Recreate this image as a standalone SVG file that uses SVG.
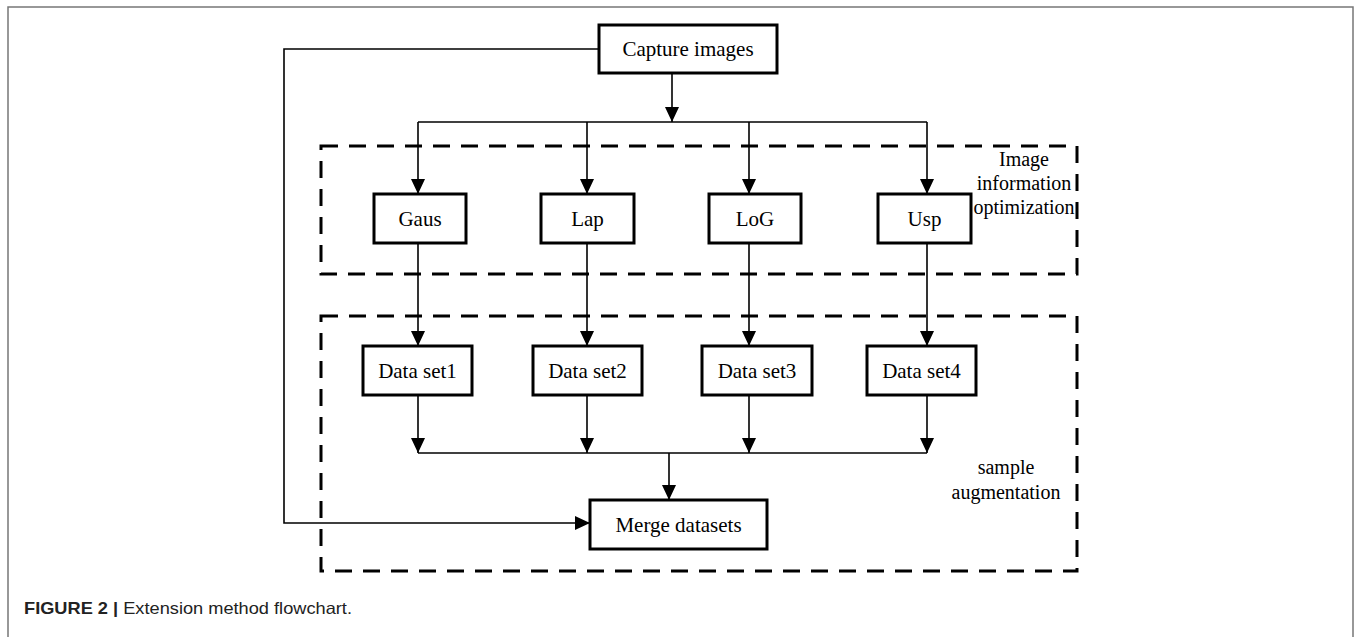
<svg xmlns="http://www.w3.org/2000/svg" width="1356" height="637" viewBox="0 0 1356 637">
  <style>
    .box { fill: #fff; stroke: #000; stroke-width: 3; }
    .lbl { font-family: "Liberation Serif", "Times New Roman", serif; font-size: 21px; fill: #000; text-anchor: middle; }
    .glbl { font-family: "Liberation Serif", "Times New Roman", serif; font-size: 20px; fill: #000; text-anchor: middle; }
    .conn { fill: none; stroke: #000; stroke-width: 1.6; }
    .dash { fill: none; stroke: #000; stroke-width: 3; stroke-dasharray: 17 11; }
    .cap { font-family: "Liberation Sans", Arial, sans-serif; font-size: 16.5px; fill: #222; }
  </style>
  <defs>
    <marker id="arr" markerUnits="userSpaceOnUse" markerWidth="15" markerHeight="14" refX="15" refY="7" orient="auto">
      <path d="M0,0 L15,7 L0,14 z" fill="#000"/>
    </marker>
  </defs>
  <rect width="1356" height="637" fill="#fff"/>
  <path d="M8,637 V7 H1353 V637" fill="none" stroke="#777" stroke-width="1.5"/>

  <g id="groups">
    <rect id="grp-optim" class="dash" x="321" y="146" width="756" height="128"/>
    <rect id="grp-aug" class="dash" x="321" y="316" width="756" height="255"/>
  </g>

  <g id="connectors">
    <path class="conn" d="M672,73 V122" marker-end="url(#arr)"/>
    <path class="conn" d="M418,122 H927"/>
    <path class="conn" d="M418,122 V194" marker-end="url(#arr)"/>
    <path class="conn" d="M587,122 V194" marker-end="url(#arr)"/>
    <path class="conn" d="M749,122 V194" marker-end="url(#arr)"/>
    <path class="conn" d="M927,122 V194" marker-end="url(#arr)"/>
    <path class="conn" d="M418,243 V346" marker-end="url(#arr)"/>
    <path class="conn" d="M587,243 V346" marker-end="url(#arr)"/>
    <path class="conn" d="M749,243 V346" marker-end="url(#arr)"/>
    <path class="conn" d="M927,243 V346" marker-end="url(#arr)"/>
    <path class="conn" d="M418,395 V453" marker-end="url(#arr)"/>
    <path class="conn" d="M587,395 V453" marker-end="url(#arr)"/>
    <path class="conn" d="M749,395 V453" marker-end="url(#arr)"/>
    <path class="conn" d="M927,395 V453" marker-end="url(#arr)"/>
    <path class="conn" d="M418,453 H927"/>
    <path class="conn" d="M669,453 V500" marker-end="url(#arr)"/>
    <path class="conn" d="M599,49 H284 V523 H590" stroke-width="2" marker-end="url(#arr)"/>
  </g>

  <g id="capture">
    <rect class="box" x="599" y="25" width="178" height="48"/>
    <text class="lbl" x="688" y="56">Capture images</text>
  </g>
  <g id="gaus">
    <rect class="box" x="374" y="194" width="92" height="49"/>
    <text class="lbl" x="420" y="225.5">Gaus</text>
  </g>
  <g id="lap">
    <rect class="box" x="541" y="194" width="93" height="49"/>
    <text class="lbl" x="587.5" y="225.5">Lap</text>
  </g>
  <g id="log">
    <rect class="box" x="709" y="194" width="92" height="49"/>
    <text class="lbl" x="755" y="225.5">LoG</text>
  </g>
  <g id="usp">
    <rect class="box" x="878" y="194" width="93" height="49"/>
    <text class="lbl" x="924.5" y="225.5">Usp</text>
  </g>
  <g id="ds1">
    <rect class="box" x="363" y="346" width="109" height="49"/>
    <text class="lbl" x="417.5" y="377.5">Data set1</text>
  </g>
  <g id="ds2">
    <rect class="box" x="533" y="346" width="109" height="49"/>
    <text class="lbl" x="587.5" y="377.5">Data set2</text>
  </g>
  <g id="ds3">
    <rect class="box" x="702" y="346" width="110" height="49"/>
    <text class="lbl" x="757" y="377.5">Data set3</text>
  </g>
  <g id="ds4">
    <rect class="box" x="867" y="346" width="109" height="49"/>
    <text class="lbl" x="921.5" y="377.5">Data set4</text>
  </g>
  <g id="merge">
    <rect class="box" x="590" y="500" width="177" height="49"/>
    <text class="lbl" x="678.5" y="531.5">Merge datasets</text>
  </g>

  <g id="group-labels">
    <text class="glbl" x="1024" y="166">Image</text>
    <text class="glbl" x="1024" y="190">information</text>
    <text class="glbl" x="1024" y="214">optimization</text>
    <text class="glbl" x="1006" y="474">sample</text>
    <text class="glbl" x="1006" y="499">augmentation</text>
  </g>

  <g id="caption">
    <text class="cap" x="24" y="614" textLength="328" lengthAdjust="spacingAndGlyphs"><tspan font-weight="bold">FIGURE 2 |</tspan> Extension method flowchart.</text>
  </g>
</svg>
